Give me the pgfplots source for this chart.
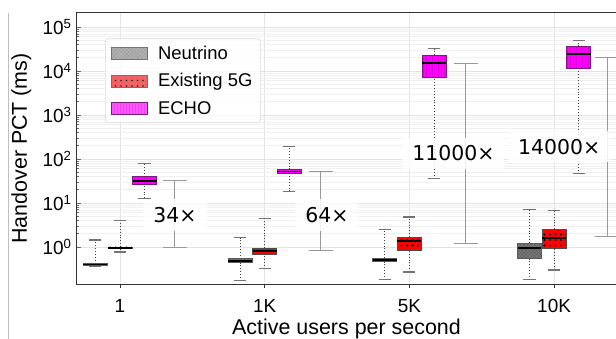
\documentclass[border=0pt]{standalone}
\usepackage{pgfplots}
\pgfplotsset{compat=1.18}
\usetikzlibrary{patterns.meta}
\usepackage{fontspec}
\setmainfont{Liberation Sans}
\newfontfamily\dejavu{DejaVu Sans}
\definecolor{neufill}{HTML}{7A7A7A}
\definecolor{neuhatch}{HTML}{5A5A5A}
\definecolor{redfill}{HTML}{FF0000}
\definecolor{magfill}{HTML}{FF00FF}
\definecolor{magline}{HTML}{E000E0}
\definecolor{magborder}{HTML}{7A1A7A}
\definecolor{legneu}{HTML}{B3B3B3}
\definecolor{legred}{HTML}{F26262}
\definecolor{legmag}{HTML}{FF55FF}
\definecolor{legmagline}{HTML}{EE44EE}
\definecolor{ratiogray}{HTML}{999999}
\pgfplotsset{
  whisk/.style={forget plot, black!75, dotted, line width=0.9bp, mark=none},
  capst/.style={forget plot, black!55, solid, line width=1.1bp, mark=none},
  medst/.style={forget plot, black, solid, line width=1.6bp, mark=none},
  neu/.style={forget plot, mark=none, draw=black!65, line width=0.8bp, fill=neufill,
      postaction={pattern={Hatch[angle=45,distance=2.6bp,line width=0.35bp]}, pattern color=neuhatch}},
  fiveg/.style={forget plot, mark=none, draw=black!70, line width=0.8bp, fill=redfill,
      postaction={pattern={Dots[radius=1.05bp,distance=5.5bp]}, pattern color=black}},
  echo/.style={forget plot, mark=none, draw=magborder, line width=0.8bp, fill=magfill,
      postaction={pattern={Lines[angle=90,distance=3bp,line width=0.3bp]}, pattern color=magline}},
  ratio/.style={forget plot, ratiogray, line width=1bp, mark=none},
}
\tikzset{rlabel/.style={font=\dejavu\fontsize{20.5}{24}\selectfont, fill=white, fill opacity=0.85, text opacity=1, inner xsep=10bp, inner ysep=8bp}}
% box: #1 position, #2 style, #3 lower whisker, #4 lower quartile, #5 median, #6 upper quartile, #7 upper whisker
\newcommand{\bx}[7]{%
  \pgfmathsetmacro\xa{#1-0.0825}\pgfmathsetmacro\xb{#1+0.0825}%
  \pgfmathsetmacro\ca{#1-0.042}\pgfmathsetmacro\cb{#1+0.042}%
  \addplot[whisk] coordinates {(#1,#3) (#1,#4)};
  \addplot[whisk] coordinates {(#1,#6) (#1,#7)};
  \addplot[capst] coordinates {(\ca,#3) (\cb,#3)};
  \addplot[capst] coordinates {(\ca,#7) (\cb,#7)};
  \addplot[#2] coordinates {(\xa,#4) (\xb,#4) (\xb,#6) (\xa,#6)} -- cycle;
  \addplot[medst] coordinates {(\xa,#5) (\xb,#5)};
}
\begin{document}
\begin{tikzpicture}
\useasboundingbox (-77bp,-55bp) rectangle (539bp,284bp);
\begin{axis}[
  at={(0,0)}, anchor=south west,
  width=539bp, height=271bp, scale only axis,
  ymode=log, ymin=0.144, ymax=2.08e5,
  xmin=-0.297, xmax=3.428,
  clip=false,
  xtick={0,1,2,3}, xticklabels={1,1K,5K,10K},
  ytick={1,10,100,1000,10000,100000},
  yticklabels={10\textsuperscript{0},10\textsuperscript{1},10\textsuperscript{2},10\textsuperscript{3},10\textsuperscript{4},10\textsuperscript{5}},
  tick pos=left,
  x tick style={black!80, line width=0.8bp},
  y tick style={black!60, line width=0.6bp},
  xtick align=outside, ytick align=inside,
  major tick length=4bp, minor tick length=2.5bp,
  ymajorgrids, yminorgrids, xmajorgrids,
  major grid style={black!11, line width=0.6bp},
  minor grid style={black!6, line width=0.5bp},
  axis line style={draw=none},
  tick label style={font=\fontsize{19}{22}\selectfont},
  xticklabel style={anchor=base, yshift=-25bp},
  yticklabel style={xshift=-2bp},
  xlabel={Active users per second},
  ylabel={Handover PCT (ms)},
  every axis x label/.style={at={(rel axis cs:0.5,0)}, anchor=base, yshift=-50bp, font=\fontsize{21.5}{25}\selectfont},
  every axis y label/.style={at={(rel axis cs:0,0.5)}, rotate=90, anchor=base, yshift=50bp, font=\fontsize{21.5}{25}\selectfont},
  legend image code/.code={\draw[sharp corners,#1] (0bp,-6bp) rectangle (36bp,6bp);},
  legend cell align=left,
  legend style={at={(0.052,0.906)}, anchor=north west, draw=black!15, line width=0.6bp,
    rounded corners=3bp, fill=white, fill opacity=0.8, text opacity=1,
    font=\fontsize{18.5}{22}\selectfont, row sep=9bp, column sep=8bp, inner xsep=6bp, inner ysep=5bp},
]
\addlegendimage{fill=legneu, fill opacity=1, draw=black!55, line width=0.8bp, postaction={pattern={Hatch[angle=45,distance=2.6bp,line width=0.3bp]}, pattern color=black!40}}
\addlegendentry{Neutrino}
\addlegendimage{fill=legred, fill opacity=1, draw=black!55, line width=0.8bp, postaction={pattern={Dots[radius=0.95bp,distance=5.5bp]}, pattern color=black!85}}
\addlegendentry{Existing 5G}
\addlegendimage{fill=legmag, fill opacity=1, draw=magborder, line width=0.8bp, postaction={pattern={Lines[angle=90,distance=3bp,line width=0.3bp]}, pattern color=legmagline}}
\addlegendentry{ECHO}

% ---- category 1 ----
\bx{-0.17}{neu}{0.37}{0.38}{0.40}{0.42}{1.44}
\bx{0}{fiveg}{0.77}{0.91}{0.96}{1.0}{4.0}
\bx{0.17}{echo}{12.8}{26.5}{32}{40}{79}
% ---- category 1K ----
\bx{0.83}{neu}{0.17}{0.44}{0.48}{0.54}{1.68}
\bx{1}{fiveg}{0.32}{0.69}{0.80}{0.95}{4.5}
\bx{1.17}{echo}{18.4}{47}{52}{58}{190}
% ---- category 5K ----
\bx{1.83}{neu}{0.18}{0.46}{0.50}{0.56}{2.55}
\bx{2}{fiveg}{0.27}{0.85}{1.37}{1.68}{4.8}
\bx{2.17}{echo}{36}{7240}{15000}{22800}{32600}
% ---- category 10K ----
\bx{2.83}{neu}{0.18}{0.56}{0.95}{1.23}{7.2}
\bx{3}{fiveg}{0.30}{0.95}{1.6}{2.55}{6.8}
\bx{3.17}{echo}{47}{11500}{24000}{36300}{50000}

% ---- ratio bars ----
\addplot[ratio] coordinates {(0.38,0.95) (0.38,32)};
\addplot[ratio] coordinates {(0.297,0.95) (0.463,0.95)};
\addplot[ratio] coordinates {(0.297,32) (0.463,32)};
\addplot[ratio] coordinates {(1.387,0.81) (1.387,52)};
\addplot[ratio] coordinates {(1.304,0.81) (1.47,0.81)};
\addplot[ratio] coordinates {(1.304,52) (1.47,52)};
\addplot[ratio] coordinates {(2.39,1.23) (2.39,15000)};
\addplot[ratio] coordinates {(2.307,1.23) (2.473,1.23)};
\addplot[ratio] coordinates {(2.307,15000) (2.473,15000)};
\addplot[ratio] coordinates {(3.366,1.77) (3.366,20400)};
\addplot[ratio] coordinates {(3.283,1.77) (3.449,1.77)};
\addplot[ratio] coordinates {(3.283,20400) (3.449,20400)};

\node[rlabel] at (axis cs:0.38,5.3) {34×};
\node[rlabel] at (axis cs:1.43,5.3) {64×};
\node[rlabel] at (axis cs:2.304,133) {11000×};
\node[rlabel] at (axis cs:3.035,191) {14000×};

\draw[black!80, line width=1bp] (rel axis cs:1,1) -- (rel axis cs:0,1) -- (rel axis cs:0,0) -- (rel axis cs:1,0);
\end{axis}
\draw[black!25, line width=0.6bp] (-69bp,271bp) -- (-69bp,-55bp);
\end{tikzpicture}
\end{document}
